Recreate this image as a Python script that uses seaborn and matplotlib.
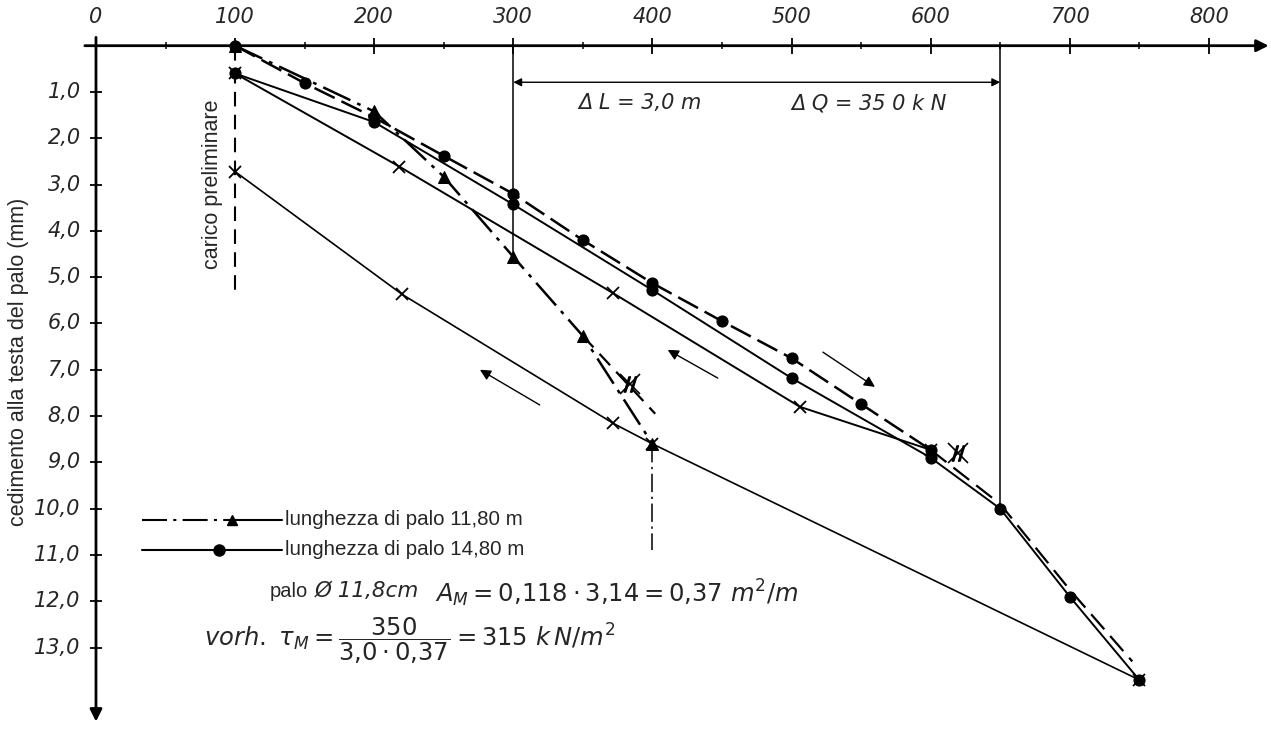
import matplotlib
matplotlib.use('Agg')
import matplotlib.pyplot as plt
import seaborn as sns

# carico Q (kN) e cedimento s (mm) letti dal diagramma
# palo 14,80 m - primo carico (tratteggiato)
Q_14_LOAD1 = [100, 150, 200, 250, 300, 350, 400, 450, 500, 550, 600]
S_14_LOAD1 = [0.0, 0.81, 1.55, 2.38, 3.2, 4.2, 5.13, 5.95, 6.75, 7.74, 8.73]
# prolungamento tratteggiato oltre 600 kN
Q_14_EXT = [600, 650, 700, 745]
S_14_EXT = [8.73, 9.9, 11.75, 13.3]
# scarico 600 -> 100
Q_14_UNL1 = [600, 506, 372, 218, 100]
S_14_UNL1 = [8.73, 7.8, 5.35, 2.61, 0.6]
# ricarico 100 -> 750
Q_14_LOAD2 = [100, 200, 300, 400, 500, 600, 650, 700, 750]
S_14_LOAD2 = [0.6, 1.65, 3.43, 5.28, 7.18, 8.9, 10.0, 11.9, 13.7]
# scarico 750 -> 100
Q_14_UNL2 = [750, 400, 372, 220, 100]
S_14_UNL2 = [13.7, 8.6, 8.16, 5.37, 2.72]

# palo 11,80 m
Q_11 = [100, 200, 250, 300, 350, 400]
S_11 = [0.0, 1.42, 2.83, 4.56, 6.27, 8.6]
Q_11_EXT = [350, 402]
S_11_EXT = [6.27, 7.95]

# punti segnati con la croce barrata
Q_MARK = [384, 620]
S_MARK = [7.3, 8.8]

X_TICKS = [0, 100, 200, 300, 400, 500, 600, 700, 800]
Y_TICKS = [1, 2, 3, 4, 5, 6, 7, 8, 9, 10, 11, 12, 13]
Y_LABELS = ['1,0', '2,0', '3,0', '4,0', '5,0', '6,0', '7,0', '8,0', '9,0',
            '10,0', '11,0', '12,0', '13,0']

sns.set_theme(style='white')
plt.rcParams['font.family'] = ['Liberation Sans', 'DejaVu Sans']
ITAL = dict(family='DejaVu Sans', style='italic')

fig = plt.figure(figsize=(12.71, 7.29), dpi=100)
ax = fig.add_axes([0, 0, 1, 1])
ax.set_xlim(-69.0, 844.7)
ax.set_ylim(14.76, -0.987)
ax.axis('off')

K = 'black'

# ── assi con frecce ─────────────────────────────────────────────
ax.annotate('', xy=(843, 0), xytext=(-8, 0),
            arrowprops=dict(arrowstyle='-|>', color=K, lw=2.0,
                            mutation_scale=18, shrinkA=0, shrinkB=0))
ax.annotate('', xy=(0, 14.6), xytext=(0, -0.18),
            arrowprops=dict(arrowstyle='-|>', color=K, lw=2.0,
                            mutation_scale=18, shrinkA=0, shrinkB=0))

ax.vlines(X_TICKS, -0.17, 0.17, color=K, lw=1.3)
ax.vlines([50, 150, 250, 350, 450, 550, 650, 750], -0.08, 0.08, color=K, lw=1.1)
ax.hlines(Y_TICKS, -4.5, 4.5, color=K, lw=1.3)
for q in X_TICKS:
    ax.text(q, -0.62, str(q), ha='center', va='center', fontsize=15, **ITAL)
for s, lab in zip(Y_TICKS, Y_LABELS):
    ax.text(-11, s, lab, ha='right', va='center', fontsize=15, **ITAL)

ax.text(-56, 6.83, 'cedimento alla testa del palo (mm)', rotation=90,
        ha='center', va='center', fontsize=15.5)

# ── linee di riferimento ───────────────────────────────────────
ax.vlines(100, 0, 5.28, color=K, lw=1.5, linestyles=(0, (7, 4)))
ax.text(84, 3.0, 'carico preliminare', rotation=90, ha='center',
        va='center', fontsize=15.5)
ax.vlines(300, 0, 4.5, color=K, lw=1.1)
ax.vlines(650, 0, 10.0, color=K, lw=1.1)
ax.vlines(400, 8.6, 10.9, color=K, lw=1.1, linestyles=(0, (12, 3, 1.5, 3)))
ax.annotate('', xy=(300, 0.79), xytext=(650, 0.79),
            arrowprops=dict(arrowstyle='<|-|>', color=K, lw=1.0,
                            mutation_scale=12, shrinkA=0, shrinkB=0))
ax.text(391, 1.24, 'Δ L = 3,0 m', ha='center', va='center', fontsize=15, **ITAL)
ax.text(556, 1.24, 'Δ Q = 35 0 k N', ha='center', va='center', fontsize=15, **ITAL)

# ── curve carico-cedimento ─────────────────────────────────────
common = dict(ax=ax, sort=False, estimator=None, color=K,
              markeredgecolor=K, markerfacecolor=K)
sns.lineplot(x=Q_14_LOAD1, y=S_14_LOAD1, lw=1.8, linestyle=(0, (9, 3)),
             marker='o', markersize=8, **common)
sns.lineplot(x=Q_14_EXT, y=S_14_EXT, lw=1.6, linestyle=(0, (9, 4)), **common)
sns.lineplot(x=Q_14_UNL1, y=S_14_UNL1, lw=1.4, marker='x', markersize=9,
             markeredgewidth=1.3, **common)
sns.lineplot(x=Q_14_LOAD2, y=S_14_LOAD2, lw=1.4, marker='o', markersize=8,
             **common)
sns.lineplot(x=Q_14_UNL2, y=S_14_UNL2, lw=1.2, marker='x', markersize=9,
             markeredgewidth=1.3, **common)
sns.lineplot(x=Q_11, y=S_11, lw=1.8, linestyle=(0, (12, 3, 1.5, 3)),
             marker='^', markersize=8, **common)
sns.lineplot(x=Q_11_EXT, y=S_11_EXT, lw=1.6, linestyle=(0, (7, 4)), **common)
ax.plot(Q_MARK, S_MARK, ls='none', marker='x', markersize=15,
        markeredgewidth=1.2, color=K)
ax.plot(Q_MARK, S_MARK, ls='none', marker='$//$', markersize=11, color=K)

# frecce di carico / scarico
for tail, head in [((447, 7.18), (411, 6.57)),
                   ((522.6, 6.62), (560, 7.37)),
                   ((319, 7.76), (276, 7.0))]:
    ax.annotate('', xy=head, xytext=tail,
                arrowprops=dict(arrowstyle='-|>', color=K, lw=1.0,
                                mutation_scale=16, shrinkA=0, shrinkB=0))

# ── legenda disegnata ─────────────────────────────────────────
ax.plot([33, 97.8], [10.24, 10.24], color=K, lw=1.5, ls=(0, (12, 3, 1.5, 3)))
ax.plot([97.8, 133.7], [10.24, 10.24], color=K, lw=1.5)
ax.plot([97.8], [10.24], marker='^', markersize=7, color=K)
ax.plot([33, 133.7], [10.89, 10.89], color=K, lw=1.5)
ax.plot([88.4], [10.89], marker='o', markersize=8, color=K)
ax.text(136, 10.24, 'lunghezza di palo 11,80 m', va='center', fontsize=14.8)
ax.text(136, 10.89, 'lunghezza di palo 14,80 m', va='center', fontsize=14.8)

# ── testo con le formule ───────────────────────────────────────
ax.text(125, 11.78, 'palo', va='center', fontsize=14.5)
ax.text(157, 11.78, 'Ø 11,8cm', va='center', fontsize=15.5, **ITAL)
ax.text(244, 11.82, r'$A_M = 0{,}118 \cdot 3{,}14 = 0{,}37\ m^2/m$',
        va='center', fontsize=17.5)
ax.text(78, 12.85, r'$vorh.\ \tau_M = \dfrac{350}{3{,}0 \cdot 0{,}37} = 315\ k\,N/m^2$',
        va='center', fontsize=17.5)

fig.savefig('out.png', dpi=100)
